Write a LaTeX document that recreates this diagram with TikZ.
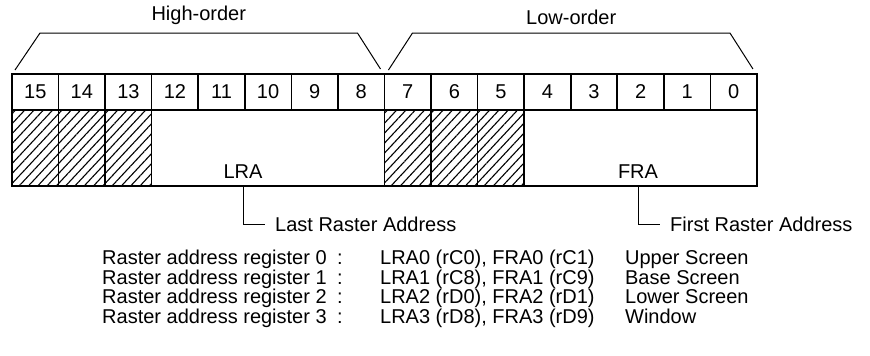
\documentclass[tikz,border=0pt]{standalone}
\usepackage{fontspec}
\setmainfont{Liberation Sans}
\usetikzlibrary{positioning,calc,patterns.meta}
\newcommand\cellw{46.56pt}
\newcommand\lblfont{\fontsize{20}{24}\selectfont}
\tikzset{
  bit/.style   ={rectangle, draw=black, line width=1.6pt, minimum width=\cellw,
                 minimum height=36pt, inner sep=0pt, outer sep=0pt, font=\lblfont},
  hatch/.style ={rectangle, draw=black, line width=1.6pt, minimum width=\cellw,
                 minimum height=76pt, inner sep=0pt, outer sep=0pt,
                 pattern={Lines[angle=47,distance=6.8pt,line width=1.1pt]}},
  fld/.style   ={rectangle, draw=black, line width=1.6pt, minimum height=76pt,
                 inner sep=0pt, outer sep=0pt, anchor=north west},
  fldlbl/.style={font=\lblfont, inner sep=0pt},
  grp/.style   ={font=\lblfont, inner sep=0pt, above=8pt},
  brk/.style   ={line width=1pt},
  lead/.style  ={line width=1pt},
  note/.style  ={font=\lblfont, inner xsep=10pt, inner ysep=0pt, anchor=west},
  tbl/.style   ={font=\fontsize{20}{17.4}\selectfont, inner sep=0pt, anchor=north west},
}
\begin{document}
\begin{tikzpicture}[x=1pt,y=1pt]
  \useasboundingbox (0,0) rectangle (870,-356);
  % bit numbers
  \node[bit,anchor=north west] (c15) at (12,-74) {15};
  \node[bit,right=0pt of c15] (c14) {14};\node[bit,right=0pt of c14] (c13) {13};
  \node[bit,right=0pt of c13] (c12) {12};\node[bit,right=0pt of c12] (c11) {11};
  \node[bit,right=0pt of c11] (c10) {10};\node[bit,right=0pt of c10] (c9) {9};
  \node[bit,right=0pt of c9] (c8) {8};\node[bit,right=0pt of c8] (c7) {7};
  \node[bit,right=0pt of c7] (c6) {6};\node[bit,right=0pt of c6] (c5) {5};
  \node[bit,right=0pt of c5] (c4) {4};\node[bit,right=0pt of c4] (c3) {3};
  \node[bit,right=0pt of c3] (c2) {2};\node[bit,right=0pt of c2] (c1) {1};
  \node[bit,right=0pt of c1] (c0) {0};
  % unused bits and fields
  \node[hatch,below=0pt of c15] (h15) {};\node[hatch,below=0pt of c14] (h14) {};
  \node[hatch,below=0pt of c13] (h13) {};
  \node[hatch,below=0pt of c7] (h7) {};\node[hatch,below=0pt of c6] (h6) {};
  \node[hatch,below=0pt of c5] (h5) {};
  \node[fld,minimum width=5*\cellw] (lra) at (c12.south west) {};
  \node[fld,minimum width=5*\cellw] (fra) at (c4.south west) {};
  \node[fldlbl] (lratxt) at (243,-172) {LRA};
  \node[fldlbl] (fratxt) at (638,-172) {FRA};
  % high / low byte
  \draw[brk] ($(c15.north west)+(3,4)$) -- ++(25,37)
    -- node[grp] (hi) {High-order} ($(c8.north east)+(-27,41)$) -- ($(c8.north east)+(-4,5)$);
  \draw[brk] ($(c7.north west)+(4,4)$) -- ++(24,37)
    -- node[grp] (lo) {Low-order} ($(c0.north east)+(-27,41)$) -- ($(c0.north east)+(-4,5)$);
  % leaders
  \node[note] (lastnote) at (265,-224) {Last Raster Address};
  \node[note] (firstnote) at (660,-224) {First Raster Address};
  \draw[lead] (lratxt |- lra.south) |- (lastnote.west);
  \draw[lead] (fratxt |- fra.south) |- (firstnote.west);
  % register list
  \node[tbl] (regs) at (102,-249.8) {\begin{tabular}{@{}p{235pt}@{}p{43pt}@{}p{245pt}@{}l@{}}
    Raster address register 0 & : & LRA0 (rC0), FRA0 (rC1) & Upper Screen\\
    Raster address register 1 & : & LRA1 (rC8), FRA1 (rC9) & Base Screen\\
    Raster address register 2 & : & LRA2 (rD0), FRA2 (rD1) & Lower Screen\\
    Raster address register 3 & : & LRA3 (rD8), FRA3 (rD9) & Window
  \end{tabular}};
\end{tikzpicture}
\end{document}
